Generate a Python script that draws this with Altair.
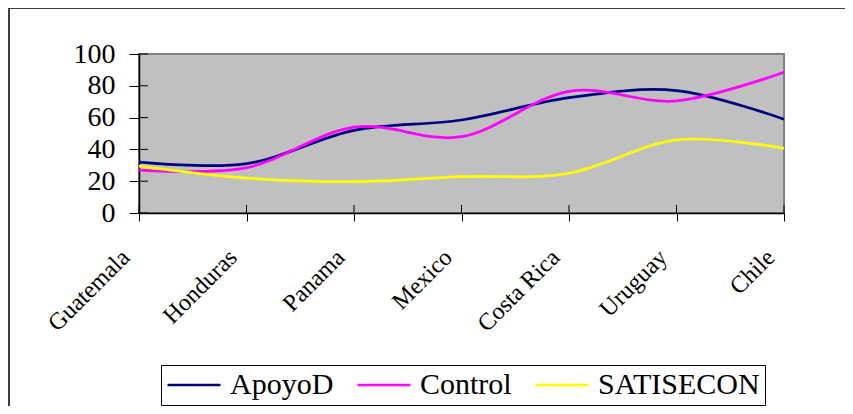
import altair as alt
import pandas as pd

countries = ["Guatemala", "Honduras", "Panama", "Mexico", "Costa Rica", "Uruguay", "Chile"]
series = ["ApoyoD", "Control", "SATISECON"]
apoyod = [32, 31, 52, 58.5, 72.5, 77, 59]
control = [27, 28.5, 54, 48, 76.5, 70.5, 88.5]
satisecon = [29.5, 22, 19.7, 22.8, 25, 46, 40.7]
colors = ["#000080", "#FF00FF", "#FFFF00"]
yticks = [0, 20, 40, 60, 80, 100]

rows = []
for name, vals in zip(series, [apoyod, control, satisecon]):
    for c, v in zip(countries, vals):
        rows.append({"country": c, "series": name, "value": v})
df = pd.DataFrame(rows)
df_c = pd.DataFrame({"country": countries})
df_y = pd.DataFrame({"value": yticks})

W, H = 645, 159
FONT = "Liberation Serif"

xscale = alt.Scale(type="point", padding=0)
yscale = alt.Scale(domain=[0, 100], nice=False)

x_axis = alt.Axis(
    title=None, labelAngle=-45, labelAlign="right", labelBaseline="top",
    labelFont=FONT, labelFontSize=24, labelColor="black",
    labelPadding=24, labelOffset=-22, tickSize=8, tickColor="black",
    domainColor="black", domainWidth=1.5, grid=False,
)
y_axis = alt.Axis(
    title=None, values=yticks, labelFont=FONT, labelFontSize=28,
    labelColor="black", labelPadding=14, tickSize=10, tickColor="black",
    domainColor="black", domainWidth=1.5, grid=False,
)

x_enc = alt.X("country:N", sort=countries, scale=xscale, axis=x_axis)
y_enc = alt.Y("value:Q", scale=yscale, axis=y_axis)

frame = alt.Chart(pd.DataFrame({"a": [0]})).mark_rect(
    fill="white", fillOpacity=0, stroke="black", strokeWidth=1.5
).encode(
    x=alt.value(-130), x2=alt.value(760), y=alt.value(-46), y2=alt.value(420)
)

lines = alt.Chart(df).mark_line(interpolate="cardinal", strokeWidth=2.75).encode(
    x=x_enc,
    y=y_enc,
    color=alt.Color(
        "series:N", sort=series,
        scale=alt.Scale(domain=series, range=colors),
        legend=alt.Legend(
            title=None, orient="none", legendX=22, legendY=311,
            direction="horizontal", symbolType="stroke", symbolSize=2809,
            symbolStrokeWidth=2.5, clipHeight=30, labelFont=FONT,
            labelFontSize=30, labelColor="black", labelLimit=400,
            labelOffset=8, columnPadding=22, padding=5,
            strokeColor="black", fillColor="white",
        ),
    ),
)

xin = alt.Chart(df_c).mark_rule(color="black", strokeWidth=1).encode(
    x=x_enc,
    y=alt.value(H - 8), y2=alt.value(H),
)
yin = alt.Chart(df_y).mark_rule(color="black", strokeWidth=1).encode(
    y=y_enc,
    x=alt.value(0), x2=alt.value(9),
)

chart = alt.layer(frame, lines, xin, yin).properties(
    width=W, height=H,
    padding={"left": 131, "top": 46, "right": 61, "bottom": 193},
    autosize=alt.AutoSizeParams(type="none"),
    background="white",
).configure_view(fill="#C0C0C0", stroke="#808080", strokeWidth=2)

chart.save("out.html", embed_options={"renderer": "svg", "actions": False})
